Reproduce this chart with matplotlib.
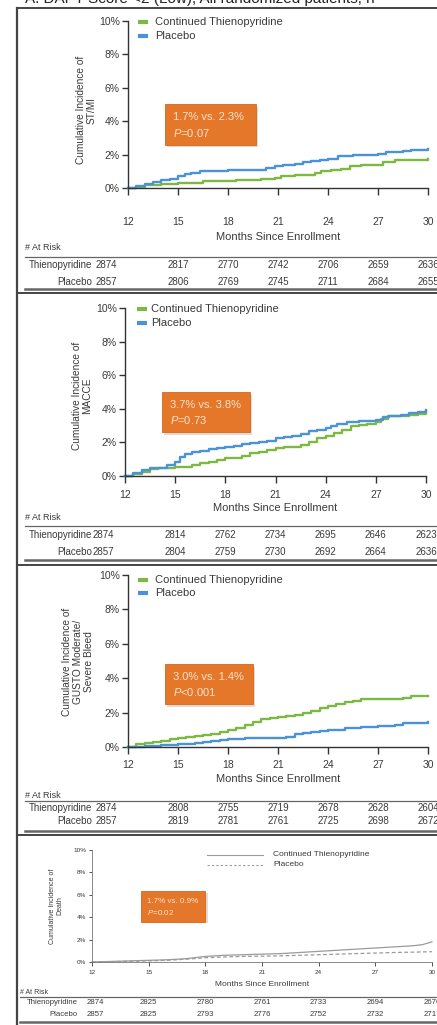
import matplotlib
matplotlib.use("Agg")
import matplotlib.pyplot as plt
from matplotlib.patches import Rectangle
from matplotlib.transforms import blended_transform_factory

plt.rcParams['font.family'] = ['Liberation Sans', 'DejaVu Sans']
plt.rcParams['mathtext.fontset'] = 'custom'
plt.rcParams['mathtext.rm'] = 'Liberation Sans'
plt.rcParams['mathtext.it'] = 'Liberation Sans:italic'

# ---- data ----
months = [12, 15, 18, 21, 24, 27, 30]
yticks = [0, 2, 4, 6, 8, 10]

# ST/MI
stmi_thieno_t = [12, 12.5, 13, 13.5, 14, 15, 16, 16.5, 17.5, 18.5, 19.2, 20, 20.8, 21.2, 22, 22.6,
                 23.2, 23.6, 24.2, 24.8, 25.3, 26, 26.8, 27.3, 28, 29, 30]
stmi_thieno_y = [0, 0.05, 0.15, 0.2, 0.25, 0.3, 0.3, 0.4, 0.4, 0.45, 0.5, 0.55, 0.6, 0.7, 0.75, 0.8,
                 0.9, 1.0, 1.05, 1.15, 1.3, 1.35, 1.4, 1.55, 1.65, 1.65, 1.72]
stmi_placebo_t = [12, 12.5, 13, 13.5, 14, 14.5, 15, 15.4, 15.8, 16.3, 17, 18, 18.5, 19.5, 20.3, 20.8,
                  21.3, 22, 22.5, 23, 23.5, 24, 24.6, 25.5, 26.3, 27, 27.5, 28.5, 29, 29.5, 30]
stmi_placebo_y = [0, 0.1, 0.25, 0.35, 0.45, 0.55, 0.7, 0.85, 0.92, 1.0, 1.0, 1.05, 1.1, 1.1, 1.2, 1.3,
                  1.4, 1.45, 1.55, 1.6, 1.7, 1.75, 1.9, 1.95, 2.0, 2.05, 2.15, 2.2, 2.3, 2.3, 2.33]

# MACCE
macce_thieno_t = [12, 12.5, 13, 13.5, 14, 15, 15.5, 16, 16.5, 17, 17.5, 18, 18.5, 19, 19.5, 20, 20.5,
                  21, 21.5, 22, 22.5, 23, 23.5, 24, 24.5, 25, 25.5, 26, 26.5, 27, 27.3, 27.7, 28.5,
                  29, 29.5, 30]
macce_thieno_y = [0, 0.1, 0.25, 0.4, 0.5, 0.55, 0.55, 0.65, 0.75, 0.85, 0.95, 1.05, 1.1, 1.2, 1.35,
                  1.45, 1.55, 1.65, 1.7, 1.75, 1.85, 2.05, 2.25, 2.4, 2.55, 2.75, 2.95, 3.05, 3.1,
                  3.2, 3.4, 3.6, 3.6, 3.65, 3.7, 3.85]
macce_placebo_t = [12, 12.5, 13, 13.5, 14, 14.5, 15, 15.3, 15.6, 16, 16.5, 17, 17.5, 18, 18.5, 19,
                   19.5, 20, 20.5, 21, 21.5, 22, 22.5, 23, 23.5, 24, 24.3, 24.7, 25.3, 26, 26.5, 27,
                   27.4, 27.8, 28.5, 29, 29.5, 30]
macce_placebo_y = [0, 0.15, 0.35, 0.45, 0.5, 0.65, 0.85, 1.15, 1.3, 1.45, 1.5, 1.6, 1.65, 1.7, 1.8,
                   1.9, 1.95, 2.05, 2.1, 2.25, 2.3, 2.4, 2.5, 2.65, 2.75, 2.85, 3.0, 3.1, 3.2, 3.25,
                   3.3, 3.35, 3.5, 3.6, 3.65, 3.75, 3.8, 3.95]

# GUSTO moderate/severe bleed
bleed_thieno_t = [12, 12.5, 13, 13.5, 14, 14.5, 15, 15.5, 16, 16.5, 17, 17.5, 18, 18.5, 19, 19.5, 20,
                  20.5, 21, 21.5, 22, 22.5, 23, 23.5, 24, 24.5, 25, 25.5, 26, 27, 28, 28.5, 29, 30]
bleed_thieno_y = [0, 0.15, 0.25, 0.3, 0.35, 0.45, 0.55, 0.6, 0.65, 0.7, 0.75, 0.85, 1.0, 1.1, 1.3,
                  1.45, 1.65, 1.7, 1.75, 1.8, 1.85, 1.95, 2.1, 2.25, 2.4, 2.5, 2.6, 2.7, 2.8, 2.8,
                  2.8, 2.85, 2.95, 2.95]
bleed_placebo_t = [12, 13, 14, 15, 15.5, 16, 16.5, 17, 17.5, 18, 19, 20, 21, 21.5, 22, 22.5, 23, 23.5,
                   24, 25, 26, 27, 27.5, 28, 28.5, 29, 30]
bleed_placebo_y = [0, 0.05, 0.1, 0.15, 0.2, 0.25, 0.3, 0.35, 0.4, 0.45, 0.5, 0.5, 0.55, 0.6, 0.75,
                   0.8, 0.85, 0.95, 1.0, 1.1, 1.15, 1.2, 1.25, 1.3, 1.4, 1.4, 1.43]

# Death
death_thieno_t = [12, 13, 14, 15, 16, 17, 17.5, 18, 19, 20, 21, 22, 23, 24, 25, 26, 27, 28, 29, 29.5, 30]
death_thieno_y = [0, 0.05, 0.1, 0.15, 0.2, 0.3, 0.4, 0.5, 0.6, 0.65, 0.7, 0.75, 0.85, 0.95, 1.05,
                  1.15, 1.25, 1.35, 1.45, 1.55, 1.8]
death_placebo_t = [12, 13, 14, 15, 16, 17, 18, 19, 20, 21, 22, 23, 24, 25, 26, 27, 28, 29, 30]
death_placebo_y = [0, 0.03, 0.06, 0.1, 0.15, 0.25, 0.38, 0.45, 0.5, 0.52, 0.55, 0.6, 0.65, 0.7,
                   0.75, 0.8, 0.85, 0.88, 0.92]

# numbers at risk
risk_stmi_thieno = [2874, 2817, 2770, 2742, 2706, 2659, 2636]
risk_stmi_placebo = [2857, 2806, 2769, 2745, 2711, 2684, 2655]
risk_macce_thieno = [2874, 2814, 2762, 2734, 2695, 2646, 2623]
risk_macce_placebo = [2857, 2804, 2759, 2730, 2692, 2664, 2636]
risk_bleed_thieno = [2874, 2808, 2755, 2719, 2678, 2628, 2604]
risk_bleed_placebo = [2857, 2819, 2781, 2761, 2725, 2698, 2672]
risk_death_thieno = [2874, 2825, 2780, 2761, 2733, 2694, 2676]
risk_death_placebo = [2857, 2825, 2793, 2776, 2752, 2732, 2717]

endpoints = ['Cumulative Incidence of\nST/MI',
             'Cumulative Incidence of\nMACCE',
             'Cumulative Incidence of\nGUSTO Moderate/\nSevere Bleed',
             'Cumulative Incidence of\nDeath']
rates = ['1.7% vs. 2.3%', '3.7% vs. 3.8%', '3.0% vs. 1.4%', '1.7% vs. 0.9%']
pvals = ['$P$=0.07', '$P$=0.73', '$P$<0.001', '$P$=0.02']
series_names = ['Continued Thienopyridine', 'Placebo']
row_names = ['Thienopyridine', 'Placebo']
title = 'A. DAPT Score <2 (Low), All randomized patients, n'

# ---- styling / layout (pixels) ----
W, H = 437, 1025
GREEN = '#7cb842'
BLUE = '#4b93d8'
GRAY = '#9a9a9a'
TXT = '#3a3a3a'
ORANGE = '#e5772a'

fig = plt.figure(figsize=(W / 100, H / 100), dpi=100)
bg = fig.add_axes([0, 0, 1, 1])
bg.set_xlim(0, W)
bg.set_ylim(H, 0)
bg.axis('off')


def box(l, t, r, b):
    return [l / W, 1 - b / H, (r - l) / W, (b - t) / H]


big = dict(tick=7.5, leg=8, xlab=8, ylab=7.3, tab=7, box=8, risk=6.5)
small = dict(tick=4.6, leg=6, xlab=6, ylab=5, tab=5.6, box=5.8, risk=5)

panels = [
    dict(ax=(128, 21, 428, 188), pad=16, xlab=237, risk=248, tline=257, rows=(265, 282), bline=289,
         lab_r=92, shift=-1.3, leg=(138, 148, 155, 22, 36), obox=(14.2, 2.6, 5.5, 2.4),
         ylab=(86, 110), fs=big, tl=4),
    dict(ax=(125, 308, 426, 476), pad=5, xlab=508, risk=518, tline=526, rows=(535, 552), bline=560,
         lab_r=92, shift=-1.3, leg=(137, 147, 151, 309, 323), obox=(14.2, 2.6, 5.3, 2.4),
         ylab=(82, 396), fs=big, tl=4),
    dict(ax=(128, 575, 428, 747), pad=4, xlab=779, risk=796, tline=801, rows=(808, 821), bline=831,
         lab_r=92, shift=-1.3, leg=(138, 148, 155, 580, 593), obox=(14.2, 2.5, 5.3, 2.3),
         ylab=(78, 662), fs=big, tl=4),
    dict(ax=(92, 850, 432, 962), pad=3, xlab=985, risk=992, tline=997, rows=(1003, 1015), bline=1022,
         lab_r=78, shift=0.2, leg=(207, 263, 273, 855, 865), obox=(14.6, 3.6, 3.4, 2.7),
         ylab=(56, 906), fs=small, tl=2),
]

curves = [
    [(stmi_thieno_t, stmi_thieno_y), (stmi_placebo_t, stmi_placebo_y)],
    [(macce_thieno_t, macce_thieno_y), (macce_placebo_t, macce_placebo_y)],
    [(bleed_thieno_t, bleed_thieno_y), (bleed_placebo_t, bleed_placebo_y)],
    [(death_thieno_t, death_thieno_y), (death_placebo_t, death_placebo_y)],
]
risks = [(risk_stmi_thieno, risk_stmi_placebo), (risk_macce_thieno, risk_macce_placebo),
         (risk_bleed_thieno, risk_bleed_placebo), (risk_death_thieno, risk_death_placebo)]

# frame of the composite figure
bg.plot([17, 17], [8, H], color='#444444', lw=1.6)
bg.plot([17, W], [8, 8], color='#444444', lw=1.4)
for yb in [293, 565, 835]:
    bg.plot([17, W], [yb, yb], color='#444444', lw=1.4)
# title is cut by the top edge in the original
bg.text(25, 3.5, title, fontsize=11, color='#222222', ha='left', va='baseline')

for i, p in enumerate(panels):
    fs = p['fs']
    death = i == 3
    ax = fig.add_axes(box(*p['ax']))
    ax.patch.set_alpha(0)
    (t1, y1), (t2, y2) = curves[i]
    if death:
        ax.plot(t1, y1, color=GRAY, lw=0.9, clip_on=False)
        ax.plot(t2, y2, color=GRAY, lw=0.9, ls=(0, (3, 2)), clip_on=False)
    else:
        ax.plot(t1, y1, color=GREEN, lw=1.7, drawstyle='steps-post', clip_on=False)
        ax.plot(t2, y2, color=BLUE, lw=1.7, drawstyle='steps-post', clip_on=False)
    ax.set_xlim(12, 30)
    ax.set_ylim(0, 10)
    for s in ['top', 'right']:
        ax.spines[s].set_visible(False)
    for s in ['left', 'bottom']:
        ax.spines[s].set_color('#333333' if not death else '#777777')
        ax.spines[s].set_linewidth(1.0 if not death else 0.6)
    ax.set_xticks(months)
    ax.set_xticklabels([str(m) for m in months])
    ax.set_yticks(yticks)
    ax.set_yticklabels(['%d%%' % v for v in yticks])
    ax.tick_params(axis='x', direction='out', length=p['tl'] + 1, width=1.0 if not death else 0.6,
                   pad=p['pad'], labelsize=fs['tick'], labelcolor=TXT, color='#333333')
    ax.tick_params(axis='y', direction='out', length=p['tl'], width=1.0 if not death else 0.6,
                   pad=2, labelsize=fs['tick'], labelcolor=TXT, color='#333333')

    # y label
    bg.text(p['ylab'][0], p['ylab'][1], endpoints[i], rotation=90, fontsize=fs['ylab'],
            color=TXT, ha='center', va='center', multialignment='center', linespacing=1.1)
    # x label
    cx = (p['ax'][0] + p['ax'][2]) / 2
    bg.text(cx, p['xlab'], 'Months Since Enrollment', fontsize=fs['xlab'], color=TXT,
            ha='center', va='center')

    # legend
    lx0, lx1, tx, ly1, ly2 = p['leg']
    if death:
        bg.plot([lx0, lx1], [ly1, ly1], color=GRAY, lw=0.8)
        bg.plot([lx0, lx1], [ly2, ly2], color=GRAY, lw=0.8, ls=(0, (2, 2)))
    else:
        bg.plot([lx0, lx1], [ly1, ly1], color=GREEN, lw=3, solid_capstyle='butt')
        bg.plot([lx0, lx1], [ly2, ly2], color=BLUE, lw=3, solid_capstyle='butt')
    bg.text(tx, ly1, series_names[0], fontsize=fs['leg'], color=TXT, ha='left', va='center')
    bg.text(tx, ly2, series_names[1], fontsize=fs['leg'], color=TXT, ha='left', va='center')

    # orange result box
    bx, by, bw, bh = p['obox']
    ax.add_patch(Rectangle((bx + 0.12, by - 0.15), bw, bh, facecolor='#c9b9a8', edgecolor='none',
                           alpha=0.5, clip_on=False))
    ax.add_patch(Rectangle((bx, by), bw, bh, facecolor=ORANGE, edgecolor='#d7671c', lw=0.6,
                           clip_on=False))
    ax.text(bx + bw * 0.09, by + bh * 0.68, rates[i], fontsize=fs['box'], color='#fde3cc',
            ha='left', va='center')
    ax.text(bx + bw * 0.09, by + bh * 0.30, pvals[i], fontsize=fs['box'], color='#fde3cc',
            ha='left', va='center')

    # number at risk table
    tr = blended_transform_factory(ax.transData, bg.transData)
    left = 25 if not death else 20
    bg.text(left, p['risk'], '# At Risk', fontsize=fs['risk'], color=TXT, ha='left', va='center')
    bg.plot([left, W], [p['tline'], p['tline']], color='#666666', lw=0.9)
    bg.plot([left, W], [p['bline'], p['bline']], color='#666666', lw=1.8)
    cols = [months[0] + p['shift']] + months[1:]
    for r, (name, vals) in enumerate(zip(row_names, risks[i])):
        yrow = p['rows'][r]
        bg.text(p['lab_r'], yrow, name, fontsize=fs['tab'], color=TXT, ha='right', va='center')
        for xc, v in zip(cols, vals):
            ax.text(xc, yrow, str(v), transform=tr, fontsize=fs['tab'], color=TXT, ha='center',
                    va='center', clip_on=False)

fig.savefig('out.png', dpi=100)
